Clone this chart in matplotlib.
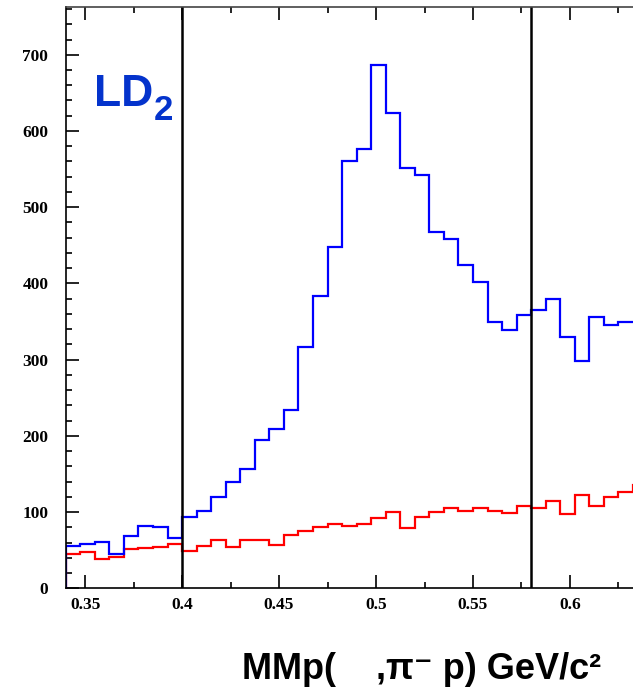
import numpy as np
import matplotlib
matplotlib.use("Agg")
import matplotlib.pyplot as plt
from matplotlib.ticker import MultipleLocator


BIN_LOW = 0.34
BIN_WIDTH = 0.0075

ld2_counts = [56, 58, 61, 45, 69, 82, 80, 66, 93, 101, 120, 139, 156, 194,
              209, 234, 317, 383, 448, 561, 576, 687, 623, 552, 542, 467,
              458, 424, 402, 350, 339, 359, 365, 380, 330, 298, 356, 345, 350]
background_counts = [45, 47, 39, 41, 52, 53, 54, 58, 49, 56, 64, 54, 64, 63,
                     57, 70, 75, 81, 84, 82, 84, 92, 100, 79, 94, 100, 105,
                     101, 105, 101, 99, 108, 105, 114, 98, 123, 108, 120, 126,
                     135]
cut_positions = [0.4, 0.58]
x_tick_labels = ["0.35", "0.4", "0.45", "0.5", "0.55", "0.6"]


def bin_edges(counts):
    return BIN_LOW + BIN_WIDTH * np.arange(len(counts) + 1)


def draw_histogram(axes, counts, color):
    # open on the right, closed down to zero on the left edge
    axes.stairs(counts, bin_edges(counts), baseline=None,
                color=color, linewidth=1.6)
    axes.vlines(BIN_LOW, 0, counts[0], color=color, linewidth=1.6)


def style_axes(axes):
    axes.set_xlim(0.34, 0.6325)
    axes.set_ylim(0, 763)
    axes.spines["right"].set_visible(False)
    for side in ("left", "bottom", "top"):
        axes.spines[side].set_linewidth(1.2)
    axes.spines["top"].set_color("#444444")

    axes.xaxis.set_minor_locator(MultipleLocator(0.025))
    axes.yaxis.set_major_locator(MultipleLocator(100))
    axes.yaxis.set_minor_locator(MultipleLocator(20))
    axes.set_xticks([float(t) for t in x_tick_labels])
    axes.set_xticklabels(x_tick_labels)

    axes.tick_params(axis="both", which="both", direction="in",
                     top=True, right=False, width=1.2)
    axes.tick_params(axis="both", which="major", length=9.2)
    axes.tick_params(axis="both", which="minor", length=4.5)
    axes.tick_params(axis="x", which="major", pad=6)
    axes.tick_params(axis="y", which="major", pad=12.5)
    for label in axes.get_xticklabels() + axes.get_yticklabels():
        label.set_fontfamily("Liberation Serif")
        label.set_fontweight("bold")
        label.set_fontsize(12.5)


def create_figure():
    figure = plt.figure(figsize=(6.33, 6.94), dpi=100)
    axes = figure.add_axes([0.1038, 0.1523, 0.8962, 0.8380])

    draw_histogram(axes, background_counts, "#ff0000")
    draw_histogram(axes, ld2_counts, "#0000ff")
    for x in cut_positions:
        axes.axvline(x, color="black", linewidth=1.8)

    style_axes(axes)

    axes.text(0.3545, 633, "LD", color="#0433cc", fontsize=32,
              fontweight="bold", family="Liberation Sans", va="baseline")
    axes.text(0.3855, 614, "2", color="#0433cc", fontsize=25,
              fontweight="bold", family="Liberation Sans", va="baseline")

    figure.text(0.666, 0.022, "MMp(    ,\u03c0\u207b p) GeV/c\u00b2",
                ha="center", va="baseline", fontsize=26, fontweight="bold",
                family=["Liberation Sans", "DejaVu Sans"])

    figure.savefig("out.png", dpi=100)


if __name__ == "__main__":
    create_figure()
